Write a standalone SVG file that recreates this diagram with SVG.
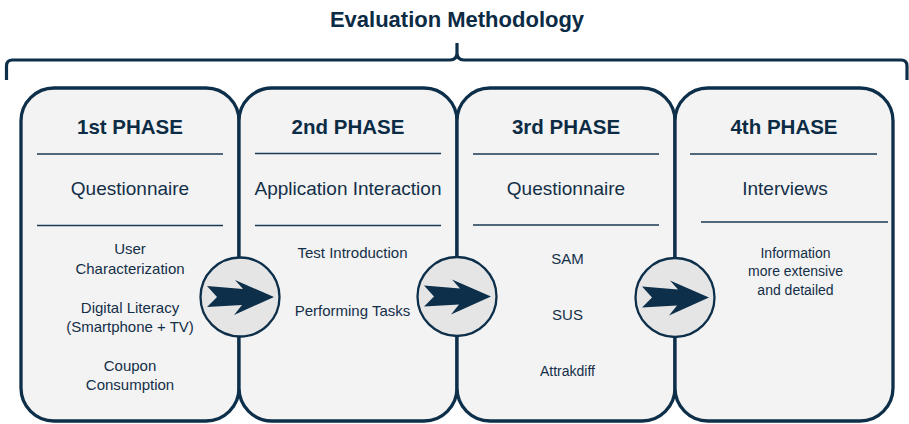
<svg xmlns="http://www.w3.org/2000/svg" width="909" height="424" viewBox="0 0 909 424">
  <defs>
    <style>
      .box { fill: #f3f3f3; stroke: #0d2f4a; stroke-width: 3.3; }
      .rule { stroke: #1a3953; stroke-width: 1.7; }
      .head { font-family: "Liberation Sans", Arial, sans-serif; font-weight: bold; font-size: 20.5px; fill: #0c2b44; text-anchor: middle; }
      .sub { font-family: "Liberation Sans", Arial, sans-serif; font-size: 19px; fill: #142f48; text-anchor: middle; }
      .item { font-family: "Liberation Sans", Arial, sans-serif; font-size: 15px; fill: #142f48; text-anchor: middle; }
      .small { font-family: "Liberation Sans", Arial, sans-serif; font-size: 14px; fill: #142f48; text-anchor: middle; }
      .hub { fill: #e5e5e5; stroke: #0d2f4a; stroke-width: 2.3; }
      .dart { fill: #0d2f4a; }
      .brace { fill: none; stroke: #0d2f4a; stroke-width: 3.2; }
    </style>
    <!-- notched arrow drawn around the origin -->
    <path id="dart" d="M-33,-11 L3,-8 L-5,-17 L34,0 L-6,18 L2,8 L-33,10 L-23,0 Z"/>
  </defs>

  <!-- title and brace -->
  <text x="457" y="27" font-family="'Liberation Sans', Arial, sans-serif" font-weight="bold" font-size="22px" fill="#0c2b44" text-anchor="middle">Evaluation Methodology</text>
  <path class="brace" d="M6.5,80 L6.5,66 Q6.5,60 12.5,60 L450,60 Q457,60 457,53 L457,43 L457,53 Q457,60 464,60 L901,60 Q907,60 907,66 L907,80"/>

  <g id="phase1">
    <rect class="box" x="21" y="88" width="218" height="333" rx="33" ry="33"/>
    <text class="head" x="130" y="133.5">1st PHASE</text>
    <line class="rule" x1="37" y1="154" x2="223" y2="154"/>
    <text class="sub" x="130" y="195">Questionnaire</text>
    <line class="rule" x1="37" y1="225.5" x2="223" y2="225.5"/>
    <text class="item" x="130" y="253.5">User</text>
    <text class="item" x="130" y="273.5">Characterization</text>
    <text class="item" x="130" y="312.5">Digital Literacy</text>
    <text class="item" x="130" y="331.5">(Smartphone + TV)</text>
    <text class="item" x="130" y="371">Coupon</text>
    <text class="item" x="130" y="390">Consumption</text>
  </g>

  <g id="phase2">
    <rect class="box" x="239" y="88" width="218" height="333" rx="33" ry="33"/>
    <text class="head" x="348" y="133.5">2nd PHASE</text>
    <line class="rule" x1="255" y1="153.5" x2="441" y2="153.5"/>
    <text class="sub" x="348" y="195">Application Interaction</text>
    <line class="rule" x1="255" y1="225.5" x2="441" y2="225.5"/>
    <text class="item" x="352.5" y="257.5">Test Introduction</text>
    <text class="item" x="352.5" y="316">Performing Tasks</text>
  </g>

  <g id="phase3">
    <rect class="box" x="457" y="88" width="218" height="333" rx="33" ry="33"/>
    <text class="head" x="566" y="133.5">3rd PHASE</text>
    <line class="rule" x1="473" y1="154" x2="659" y2="154"/>
    <text class="sub" x="566" y="195">Questionnaire</text>
    <line class="rule" x1="473" y1="225" x2="659" y2="225"/>
    <text class="item" x="567.5" y="263.5">SAM</text>
    <text class="item" x="567.5" y="319.5">SUS</text>
    <text class="small" x="567.5" y="375.5">Attrakdiff</text>
  </g>

  <g id="phase4">
    <rect class="box" x="675" y="88" width="218" height="333" rx="33" ry="33"/>
    <text class="head" x="784" y="133.5">4th PHASE</text>
    <line class="rule" x1="690" y1="154" x2="877" y2="154"/>
    <text class="sub" x="785" y="195">Interviews</text>
    <line class="rule" x1="701" y1="222" x2="888" y2="222"/>
    <text class="small" x="795.5" y="257.5">Information</text>
    <text class="small" x="795.5" y="276">more extensive</text>
    <text class="small" x="795.5" y="294.5">and detailed</text>
  </g>

  <!-- transitions between phases -->
  <g id="connectors">
    <g transform="translate(240,297)">
      <circle class="hub" r="39.5"/>
      <use class="dart" href="#dart"/>
    </g>
    <g transform="translate(457,296.5)">
      <circle class="hub" r="39.5"/>
      <use class="dart" href="#dart"/>
    </g>
    <g transform="translate(675,297.5)">
      <circle class="hub" r="39.5"/>
      <use class="dart" href="#dart"/>
    </g>
  </g>
</svg>
